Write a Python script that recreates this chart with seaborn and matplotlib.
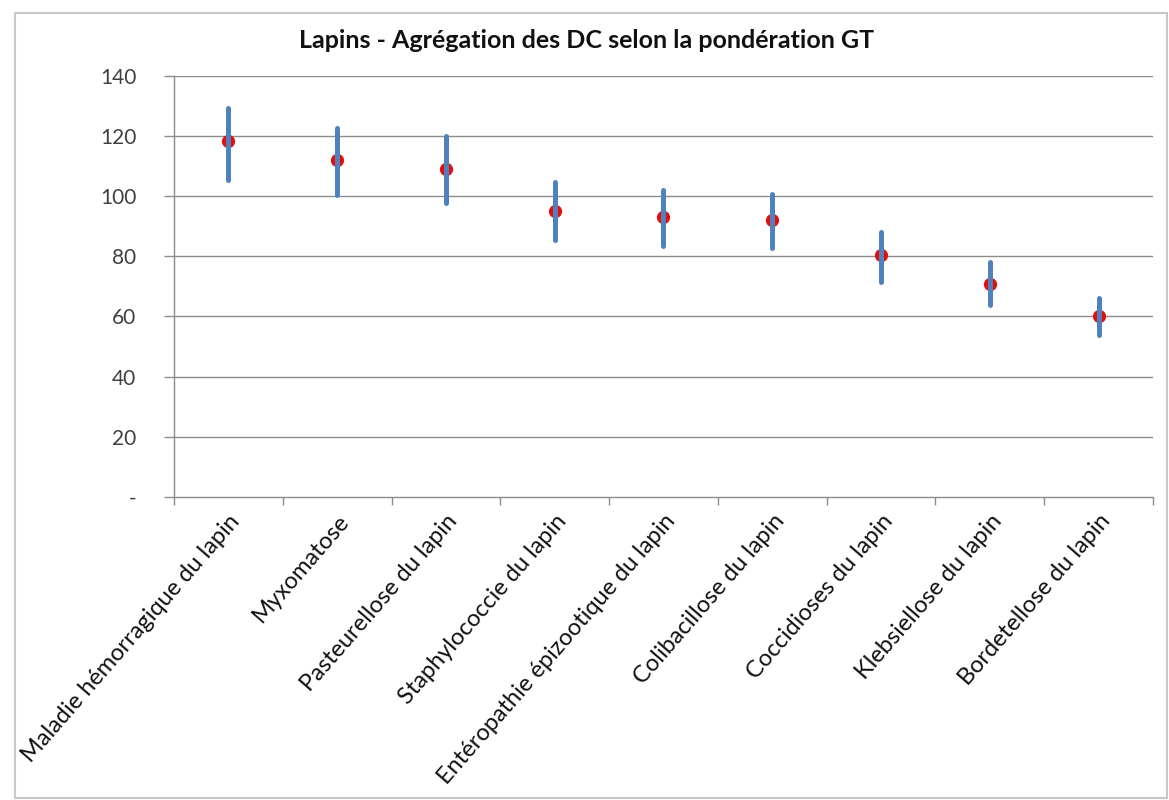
import numpy as np
import pandas as pd
import matplotlib
matplotlib.use("Agg")
import matplotlib.pyplot as plt
import seaborn as sns
from matplotlib.patches import Rectangle

categories = [
    "Maladie hémorragique du lapin",
    "Myxomatose",
    "Pasteurellose du lapin",
    "Staphylococcie du lapin",
    "Entéropathie épizootique du lapin",
    "Colibacillose du lapin",
    "Coccidioses du lapin",
    "Klebsiellose du lapin",
    "Bordetellose du lapin",
]
score_low = [105.3, 100.3, 97.6, 85.3, 83.4, 82.8, 71.6, 63.8, 53.8]
score_mid = [118.3, 112.0, 109.1, 95.1, 93.1, 92.2, 80.6, 70.8, 60.3]
score_high = [129.4, 122.8, 120.0, 104.8, 102.0, 100.9, 88.0, 78.0, 66.2]
y_ticks = [0, 20, 40, 60, 80, 100, 120, 140]
y_tick_labels = ["-", "20", "40", "60", "80", "100", "120", "140"]

# Long-form table: the median of (low, mid, high) is the mid value and the
# full percentile interval spans low..high.
df = pd.DataFrame({
    "maladie": np.repeat(categories, 3),
    "score": np.ravel(np.column_stack([score_low, score_mid, score_high])),
})

sns.set_theme(style="white")
plt.rcParams["font.family"] = ["Lato", "DejaVu Sans"]

fig = plt.figure(figsize=(11.69, 8.0), dpi=100)
ax = fig.add_axes([0.1488, 0.379, 0.8375, 0.526])

grid_color = "#8c8c8c"
for v in y_ticks[1:]:
    ax.axhline(v, color=grid_color, lw=1.0, zorder=0)

sns.pointplot(
    data=df, x="maladie", y="score", order=categories,
    estimator="median", errorbar=("pi", 100),
    linestyle="none", markers="o", color="#e01010",
    markersize=7.5, err_kws={"color": "#4f81bd", "linewidth": 3.6},
    ax=ax,
)

ax.set_xlim(-0.5, len(categories) - 0.5)
ax.set_ylim(0, 140)
ax.set_yticks(y_ticks)
ax.set_yticklabels(y_tick_labels, fontsize=15, color="#404040")
ax.set_xticks(range(len(categories)))
ax.set_xticklabels(categories, rotation=49, ha="right", rotation_mode="anchor",
                   fontsize=17, color="#111111")
ax.set_xticks(np.arange(-0.5, len(categories), 1.0), minor=True)
ax.tick_params(axis="x", which="major", length=0, pad=10)
ax.tick_params(axis="x", which="minor", length=6, width=1, color=grid_color,
               direction="out", bottom=True)
ax.tick_params(axis="y", length=7, width=1, color=grid_color, direction="out",
               left=True, pad=20)
ax.set_xlabel("")
ax.set_ylabel("")

for side in ["top", "right"]:
    ax.spines[side].set_visible(False)
for side in ["left", "bottom"]:
    ax.spines[side].set_color(grid_color)
    ax.spines[side].set_linewidth(1.0)

fig.text(0.502, 0.950, "Lapins - Agrégation des DC selon la pondération GT",
         ha="center", va="center", fontsize=18, fontweight="bold", color="#111111")

fig.patches.append(Rectangle((0.013, 0.003), 0.985, 0.981, transform=fig.transFigure,
                             fill=False, edgecolor="#c8c8c8", linewidth=1.5))

fig.savefig("out.png", dpi=100, facecolor="white")
